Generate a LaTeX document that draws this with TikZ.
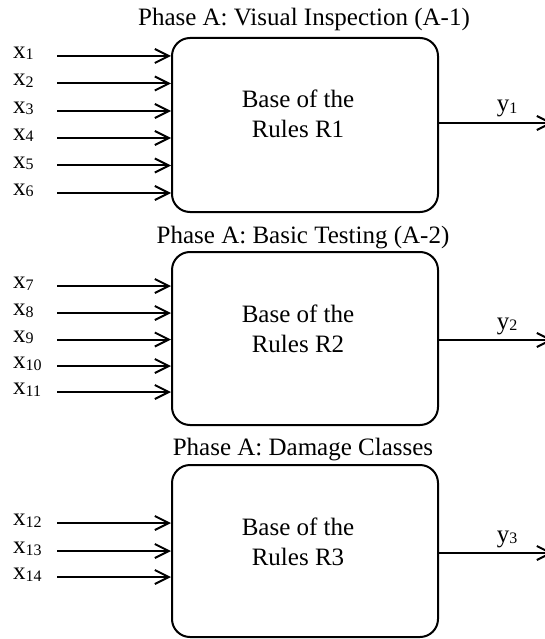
\documentclass[tikz,border=0pt]{standalone}
\usepackage{fontspec}
\setmainfont{Liberation Serif}
\usetikzlibrary{arrows.meta}
\newcommand\xsub[2]{#1\raisebox{-1.5pt}{\fontsize{16}{16}\selectfont #2}}
\begin{document}
\begin{tikzpicture}[x=1pt,y=-1pt,
  every node/.style={font=\fontsize{25}{30}\selectfont, inner sep=0pt},
  rulebox/.style={draw, line width=2pt, rounded corners=18pt, minimum width=266pt},
  arr/.style={line width=2pt, -{Straight Barb[length=14pt,width=14pt]}},
  inlab/.style={anchor=base west},
  outlab/.style={anchor=base},
  ttl/.style={anchor=base},
  boxtxt/.style={align=center, font=\fontsize{25}{30}\selectfont}
]
\useasboundingbox (0,0) rectangle (545,639);

% ---- Box 1
\node[ttl] (t1) at (304,26) {Phase A: Visual Inspection (A-1)};
\node[rulebox, minimum height=174pt] (b1) at (305,125) {};
\node[anchor=base] (r1a) at (298,108) {Base of the};
\node[anchor=base] (r1b) at (298,138) {Rules R1};
\foreach \i/\y in {1/56,2/83.5,3/111,4/138,5/165.5,6/193}{
  \coordinate (s\i) at (57,\y);
  \node[inlab] (x\i) at (13,\y+2.5) {\xsub{x}{\i}};
  \draw[arr] (s\i) -- (s\i -| b1.west);
}
\coordinate (o1) at (553,123);
\draw[arr] (b1.east |- o1) -- (o1);
\node[outlab] (y1) at (507,112) {\xsub{y}{1}};

% ---- Box 2
\node[ttl] (t2) at (303,243) {Phase A: Basic Testing (A-2)};
\node[rulebox, minimum height=173pt] (b2) at (305,338.5) {};
\node[anchor=base] (r2a) at (298,322) {Base of the};
\node[anchor=base] (r2b) at (298,352) {Rules R2};
\foreach \i/\y in {7/286,8/313,9/339.5,10/366,11/392}{
  \coordinate (s\i) at (57,\y);
  \node[inlab] (x\i) at (13,\y+2.5) {\xsub{x}{\i}};
  \draw[arr] (s\i) -- (s\i -| b2.west);
}
\coordinate (o2) at (553,340);
\draw[arr] (b2.east |- o2) -- (o2);
\node[outlab] (y2) at (507,329) {\xsub{y}{2}};

% ---- Box 3
\node[ttl] (t3) at (303,455) {Phase A: Damage Classes};
\node[rulebox, minimum height=172pt] (b3) at (305,551) {};
\node[anchor=base] (r3a) at (298,535) {Base of the};
\node[anchor=base] (r3b) at (298,565) {Rules R3};
\foreach \i/\y in {12/523,13/551,14/577}{
  \coordinate (s\i) at (57,\y);
  \node[inlab] (x\i) at (13,\y+2.5) {\xsub{x}{\i}};
  \draw[arr] (s\i) -- (s\i -| b3.west);
}
\coordinate (o3) at (553,553);
\draw[arr] (b3.east |- o3) -- (o3);
\node[outlab] (y3) at (507,542) {\xsub{y}{3}};
\end{tikzpicture}
\end{document}
